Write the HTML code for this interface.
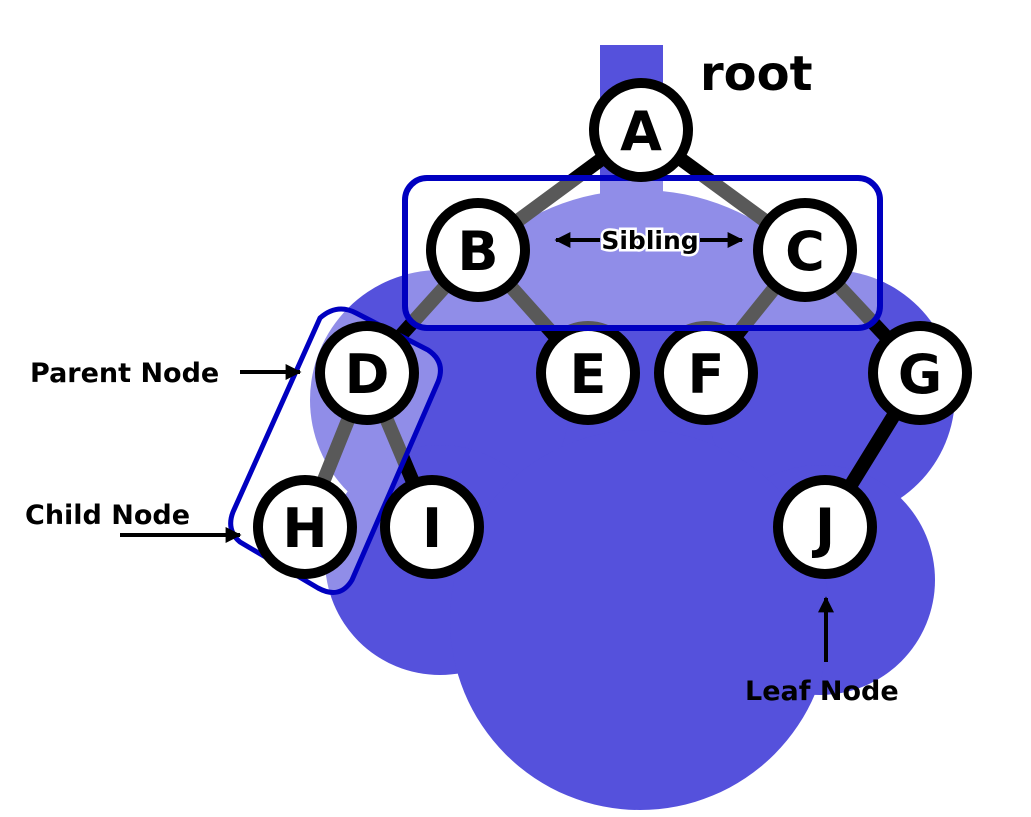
<!DOCTYPE html>
<html><head><meta charset="utf-8"><style>
html,body{margin:0;padding:0;background:#fff;}
svg{display:block;}
text{font-family:"DejaVu Sans","Liberation Sans",sans-serif;font-weight:bold;}
</style></head><body>
<svg width="1031" height="817" viewBox="0 0 1031 817" xmlns="http://www.w3.org/2000/svg">
<defs>
<marker id="ah" viewBox="0 0 10 10" refX="9" refY="5" markerWidth="4" markerHeight="4" orient="auto"><path d="M0,0 L10,5 L0,10 Z" fill="#000"/></marker>
</defs>
<g fill="#5551dc">
<rect x="600" y="45" width="63" height="160"/>
<circle cx="640" cy="420" r="230"/>
<circle cx="440" cy="400" r="130"/>
<circle cx="830" cy="395" r="125"/>
<circle cx="440" cy="560" r="115"/>
<circle cx="820" cy="580" r="115"/>
<circle cx="640" cy="620" r="190"/>
</g>
<g stroke="#000" stroke-width="14" stroke-linecap="round">
<line x1="641" y1="130" x2="478" y2="250"/>
<line x1="641" y1="130" x2="805" y2="250"/>
<line x1="478" y1="250" x2="367" y2="373"/>
<line x1="478" y1="250" x2="588" y2="373"/>
<line x1="805" y1="250" x2="706" y2="373"/>
<line x1="805" y1="250" x2="920" y2="373"/>
<line x1="367" y1="373" x2="305" y2="527"/>
<line x1="367" y1="373" x2="432" y2="527"/>
<line x1="920" y1="373" x2="825" y2="527"/>
</g>
<g fill="#fff" stroke="#000" stroke-width="10">
<circle cx="588" cy="373" r="47"/>
<circle cx="706" cy="373" r="47"/>
</g>
<rect x="405" y="178" width="475" height="150" rx="22" fill="#fff" fill-opacity="0.35" stroke="#0000c0" stroke-width="6"/>
<path d="M320,318 Q337,303 356,313 L428,350 Q446,362 438,382 L352,580 Q340,600 318,588 L240,542 Q226,530 233,512 Z" fill="#fff" fill-opacity="0.35" stroke="#0000c0" stroke-width="5" stroke-linejoin="round"/>
<g fill="#fff" stroke="#000" stroke-width="10">
<circle cx="641" cy="130" r="47"/>
<circle cx="478" cy="250" r="47"/>
<circle cx="805" cy="250" r="47"/>
<circle cx="367" cy="373" r="47"/>
<circle cx="920" cy="373" r="47"/>
<circle cx="305" cy="527" r="47"/>
<circle cx="432" cy="527" r="47"/>
<circle cx="825" cy="527" r="47"/>
</g>
<g font-size="54" text-anchor="middle" fill="#000">
<text x="641" y="150">A</text>
<text x="478" y="270">B</text>
<text x="805" y="270">C</text>
<text x="367" y="393">D</text>
<text x="588" y="393">E</text>
<text x="706" y="393">F</text>
<text x="920" y="393">G</text>
<text x="305" y="547">H</text>
<text x="432" y="547">I</text>
<text x="825" y="547">J</text>
</g>
<text x="700" y="90" font-size="48" fill="#000">root</text>
<g stroke="#000" stroke-width="4" marker-end="url(#ah)">
<line x1="600" y1="240" x2="556" y2="240"/>
<line x1="700" y1="240" x2="742" y2="240"/>
<line x1="240" y1="372" x2="300" y2="372"/>
<line x1="120" y1="535" x2="240" y2="535"/>
<line x1="826" y1="662" x2="826" y2="598"/>
</g>
<text x="650" y="249" font-size="25" text-anchor="middle" fill="#000" stroke="#fff" stroke-width="5" paint-order="stroke">Sibling</text>
<text x="30" y="382" font-size="27" fill="#000">Parent Node</text>
<text x="25" y="524" font-size="27" fill="#000">Child Node</text>
<text x="745" y="700" font-size="27" fill="#000">Leaf Node</text>
</svg>
</body></html>
